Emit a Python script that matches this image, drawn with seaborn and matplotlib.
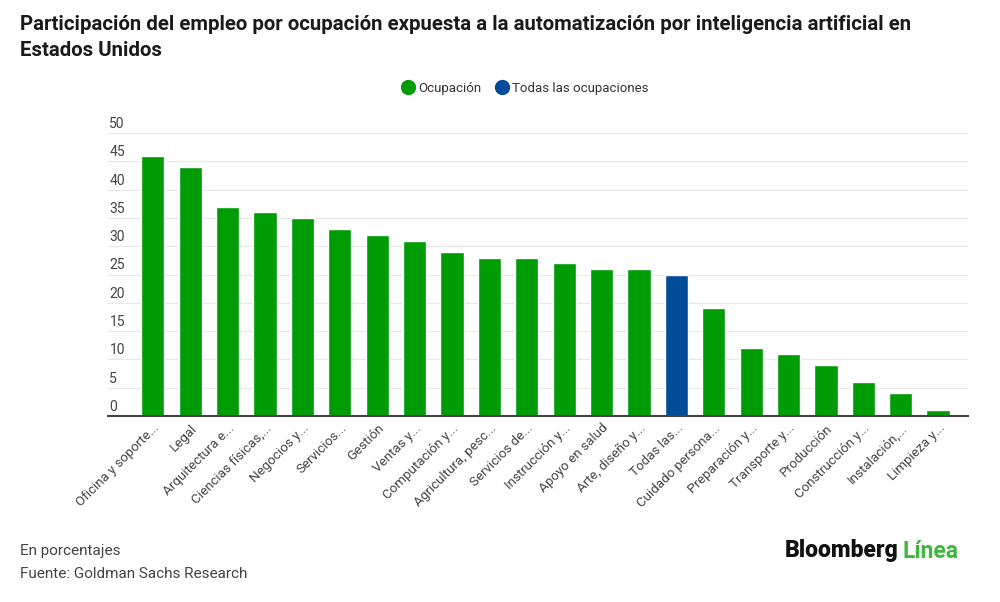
import matplotlib
matplotlib.use("Agg")
import matplotlib.pyplot as plt
from matplotlib.lines import Line2D
import pandas as pd
import seaborn as sns

occupations = [
    "Oficina y soporte...", "Legal", "Arquitectura e...", "Ciencias físicas,...",
    "Negocios y...", "Servicios...", "Gestión", "Ventas y...",
    "Computación y...", "Agricultura, pesc...", "Servicios de...", "Instrucción y...",
    "Apoyo en salud", "Arte, diseño y...", "Todas las...", "Cuidado persona...",
    "Preparación y...", "Transporte y...", "Producción", "Construcción y...",
    "Instalación,...", "Limpieza y...",
]
share = [46, 44, 37, 36, 35, 33, 32, 31, 29, 28, 28, 27, 26, 26, 25, 19, 12, 11, 9, 6, 4, 1]
group = ["Ocupación"] * 14 + ["Todas las ocupaciones"] + ["Ocupación"] * 7
y_ticks = [0, 5, 10, 15, 20, 25, 30, 35, 40, 45, 50]

GREEN = "#009c05"
BLUE = "#004c99"
palette = {"Ocupación": GREEN, "Todas las ocupaciones": BLUE}

sns.set_theme(style="white")
plt.rcParams["font.family"] = ["Roboto", "DejaVu Sans"]

df = pd.DataFrame({"occupation": occupations, "share": share, "group": group})

fig = plt.figure(figsize=(10, 6.02), dpi=100)
ax = fig.add_axes([0.108, 1 - 416 / 602, 0.86, (416 - 133) / 602])

sns.barplot(data=df, x="occupation", y="share", hue="group", palette=palette,
            dodge=False, width=0.62, legend=False, ax=ax, saturation=1)

ax.set_xlim(-1.2, 21.8)
ax.set_ylim(0, 50)
ax.set_yticks(y_ticks)
ax.yaxis.grid(True, color="#e8e8e8", linewidth=0.9)
ax.set_axisbelow(True)
for s in ["top", "right", "left"]:
    ax.spines[s].set_visible(False)
ax.spines["bottom"].set_color("#444444")
ax.spines["bottom"].set_linewidth(1.5)
ax.set_xlabel("")
ax.set_ylabel("")
ax.tick_params(axis="both", length=0)

# y labels sit above gridlines, inside the plot
ax.set_yticklabels([])
for v in y_ticks:
    ax.annotate(str(v), xy=(0, v), xycoords=("axes fraction", "data"),
                xytext=(1, 1.5), textcoords="offset points", ha="left", va="bottom",
                fontsize=10, color="#444444")

ax.set_xticks(range(len(occupations)))
ax.set_xticklabels(occupations, rotation=45, ha="right", rotation_mode="anchor",
                   fontsize=9.6, color="#444444")
ax.tick_params(axis="x", pad=4)

handles = [
    Line2D([0], [0], marker="o", color="none", markerfacecolor=GREEN,
           markeredgecolor=GREEN, markersize=10, label="Ocupación"),
    Line2D([0], [0], marker="o", color="none", markerfacecolor=BLUE,
           markeredgecolor=BLUE, markersize=10, label="Todas las ocupaciones"),
]
fig.legend(handles=handles, loc="center", bbox_to_anchor=(0.525, 1 - 88 / 602),
           ncol=2, frameon=False, fontsize=9.5, handletextpad=0.3,
           columnspacing=1.0, labelcolor="#333333", handlelength=1.0)

fig.text(0.02, 1 - 25 / 602,
         "Participación del empleo por ocupación expuesta a la automatización por inteligencia artificial en",
         fontsize=14.7, fontweight="bold", color="#1a1a1a", va="center", ha="left")
fig.text(0.02, 1 - 50 / 602, "Estados Unidos",
         fontsize=14.7, fontweight="bold", color="#1a1a1a", va="center", ha="left")

fig.text(0.02, 1 - 551 / 602, "En porcentajes", fontsize=11, color="#444444",
         va="center", ha="left")
fig.text(0.02, 1 - 574 / 602, "Fuente: Goldman Sachs Research", fontsize=11,
         color="#444444", va="center", ha="left")

fig.text(0.899, 1 - 551 / 602, "Bloomberg", fontsize=16.5, fontweight="heavy",
         color="#111111", va="center", ha="right")
fig.text(0.902, 1 - 551 / 602, "Línea", fontsize=16.5, fontweight="bold",
         color="#3db83d", va="center", ha="left")

fig.savefig("out.png", dpi=100, facecolor="white")
